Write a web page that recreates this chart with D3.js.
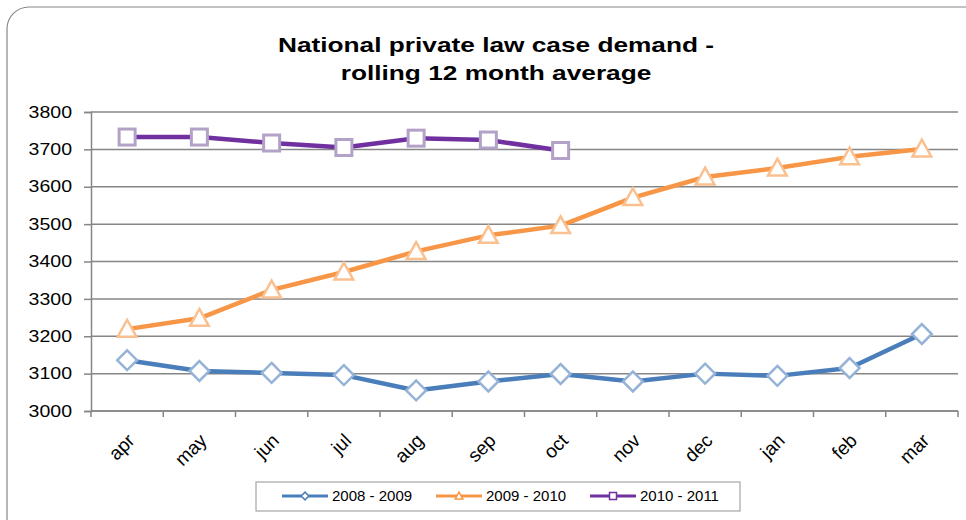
<!DOCTYPE html>
<html>
<head>
<meta charset="utf-8">
<script src="https://cdnjs.cloudflare.com/ajax/libs/d3/7.8.5/d3.min.js"></script>
<style>
  body { margin: 0; background: #fff; }
  svg text { font-family: "Liberation Sans", Arial, sans-serif; }
</style>
</head>
<body>
<svg id="chart" width="966" height="520"></svg>
<script>
var months = ["apr", "may", "jun", "jul", "aug", "sep", "oct", "nov", "dec", "jan", "feb", "mar"];
var yTicks = [3000, 3100, 3200, 3300, 3400, 3500, 3600, 3700, 3800];
var s2008 = [3136, 3107, 3102, 3096, 3055, 3079, 3099, 3079, 3100, 3094, 3115, 3206];
var s2009 = [3219, 3248, 3324, 3372, 3427, 3470, 3496, 3571, 3626, 3650, 3680, 3701];
var s2010 = [3733, 3733, 3717, 3705, 3730, 3725, 3697];
var seriesNames = ["2008 - 2009", "2009 - 2010", "2010 - 2011"];

var series = [
	{ name: seriesNames[0], values: s2008, color: "#4a7ebb", mark: "#95b3d7", shape: "diamond" },
	{ name: seriesNames[1], values: s2009, color: "#f79646", mark: "#fac090", shape: "triangle" },
	{ name: seriesNames[2], values: s2010, color: "#7030a0", mark: "#b3a2c7", shape: "square" }
];

var svg = d3.select("#chart");
var plotLeft = 91, plotRight = 958, plotTop = 112, plotBottom = 411;

// outer frame
svg.append("rect")
	.attr("x", 7).attr("y", 7)
	.attr("width", 980).attr("height", 540)
	.attr("rx", 22).attr("ry", 22)
	.attr("fill", "#fff")
	.attr("stroke", "#868686")
	.attr("stroke-width", 1.2);

// title (text in the reference is a little stretched sideways)
var titleLines = ["National private law case demand -", "rolling 12 month average"];
titleLines.forEach(function(t, i){
	svg.append("text")
		.attr("transform", "translate(496," + (52 + i * 28) + ") scale(1.25,1)")
		.attr("text-anchor", "middle")
		.style("font-size", "21px")
		.style("font-weight", "bold")
		.text(t);
});

var x = d3.scaleBand().domain(months).range([plotLeft, plotRight]);
var y = d3.scaleLinear().domain([3000, 3800]).range([plotBottom, plotTop]);

// gridlines
svg.append("g").selectAll("line")
	.data(yTicks)
	.enter().append("line")
	.attr("x1", plotLeft).attr("x2", plotRight)
	.attr("y1", function(d){ return y(d); })
	.attr("y2", function(d){ return y(d); })
	.attr("stroke", "#868686")
	.attr("stroke-width", 1.5);

// y axis
var yAxis = svg.append("g")
	.attr("transform", "translate(" + plotLeft + ",0)")
	.call(d3.axisLeft(y).tickValues(yTicks).tickSize(7).tickFormat(d3.format("d")));
yAxis.select(".domain").attr("stroke", "#868686").attr("stroke-width", 1.5);
yAxis.selectAll(".tick line").attr("stroke", "#868686").attr("stroke-width", 1.5);
yAxis.selectAll("text")
	.attr("x", null)
	.attr("transform", "translate(-19,0) scale(1.22,1)")
	.style("font-size", "16px").attr("fill", "#000")
	.style("font-family", "\"Liberation Sans\", Arial, sans-serif");

// x axis: ticks at category boundaries
var xAxis = svg.append("g").attr("transform", "translate(0," + plotBottom + ")");
xAxis.append("line")
	.attr("x1", plotLeft).attr("x2", plotRight)
	.attr("stroke", "#868686").attr("stroke-width", 1.5);
xAxis.selectAll("line.tk")
	.data(months.concat(["end"]))
	.enter().append("line").attr("class", "tk")
	.attr("x1", function(d, i){ return plotLeft + i * x.bandwidth(); })
	.attr("x2", function(d, i){ return plotLeft + i * x.bandwidth(); })
	.attr("y1", 0).attr("y2", 6)
	.attr("stroke", "#868686").attr("stroke-width", 1.5);
xAxis.selectAll("text")
	.data(months)
	.enter().append("text")
	.attr("transform", function(d){
		return "translate(" + (x(d) + x.bandwidth()/2 + 4) + ",26) rotate(-45)";
	})
	.attr("text-anchor", "end")
	.attr("dy", "0.35em")
	.style("font-size", "19px")
	.text(function(d){ return d; });

var line = d3.line()
	.x(function(d, i){ return x(months[i]) + x.bandwidth()/2; })
	.y(function(d){ return y(d); });

function drawMarker(g, shape, cx, cy, color, size, sw){
	if (shape === "diamond"){
		var r = size * 0.55;
		g.append("path")
			.attr("d", "M" + cx + "," + (cy - r) + " L" + (cx + r) + "," + cy + " L" + cx + "," + (cy + r) + " L" + (cx - r) + "," + cy + " Z")
			.attr("fill", "#fff").attr("stroke", color).attr("stroke-width", sw);
	} else if (shape === "triangle"){
		var h = size * 0.55;
		g.append("path")
			.attr("d", "M" + cx + "," + (cy - h) + " L" + (cx + h) + "," + (cy + h * 0.8) + " L" + (cx - h) + "," + (cy + h * 0.8) + " Z")
			.attr("fill", "#fff").attr("stroke", color).attr("stroke-width", sw);
	} else {
		var s = size * 0.5;
		g.append("rect")
			.attr("x", cx - s).attr("y", cy - s)
			.attr("width", 2 * s).attr("height", 2 * s)
			.attr("fill", "#fff").attr("stroke", color).attr("stroke-width", sw);
	}
}

series.forEach(function(s){
	svg.append("path")
		.datum(s.values)
		.attr("d", line)
		.attr("fill", "none")
		.attr("stroke", s.color)
		.attr("stroke-width", 4.5)
		.attr("stroke-linejoin", "round");
	var g = svg.append("g");
	s.values.forEach(function(v, i){
		var sz = s.shape === "square" ? 16 : (s.shape === "triangle" ? 17 : 18);
		drawMarker(g, s.shape, x(months[i]) + x.bandwidth()/2, y(v), s.mark, sz, s.shape === "square" ? 3 : 2.5);
	});
});

// legend
var legend = svg.append("g");
legend.append("rect")
	.attr("x", 256).attr("y", 482)
	.attr("width", 484).attr("height", 29)
	.attr("fill", "#fff")
	.attr("stroke", "#a6a6a6").attr("stroke-width", 1.2);
var legendX = [282, 436, 590];
series.forEach(function(s, i){
	var lx = legendX[i], ly = 496;
	legend.append("line")
		.attr("x1", lx).attr("x2", lx + 46)
		.attr("y1", ly).attr("y2", ly)
		.attr("stroke", s.color).attr("stroke-width", 3);
	drawMarker(legend, s.shape, lx + 23, ly, s.color, 7, 1.5);
	legend.append("text")
		.attr("x", lx + 50).attr("y", ly)
		.attr("dy", "0.35em")
		.style("font-size", "15px")
		.text(s.name);
});
</script>
</body>
</html>
